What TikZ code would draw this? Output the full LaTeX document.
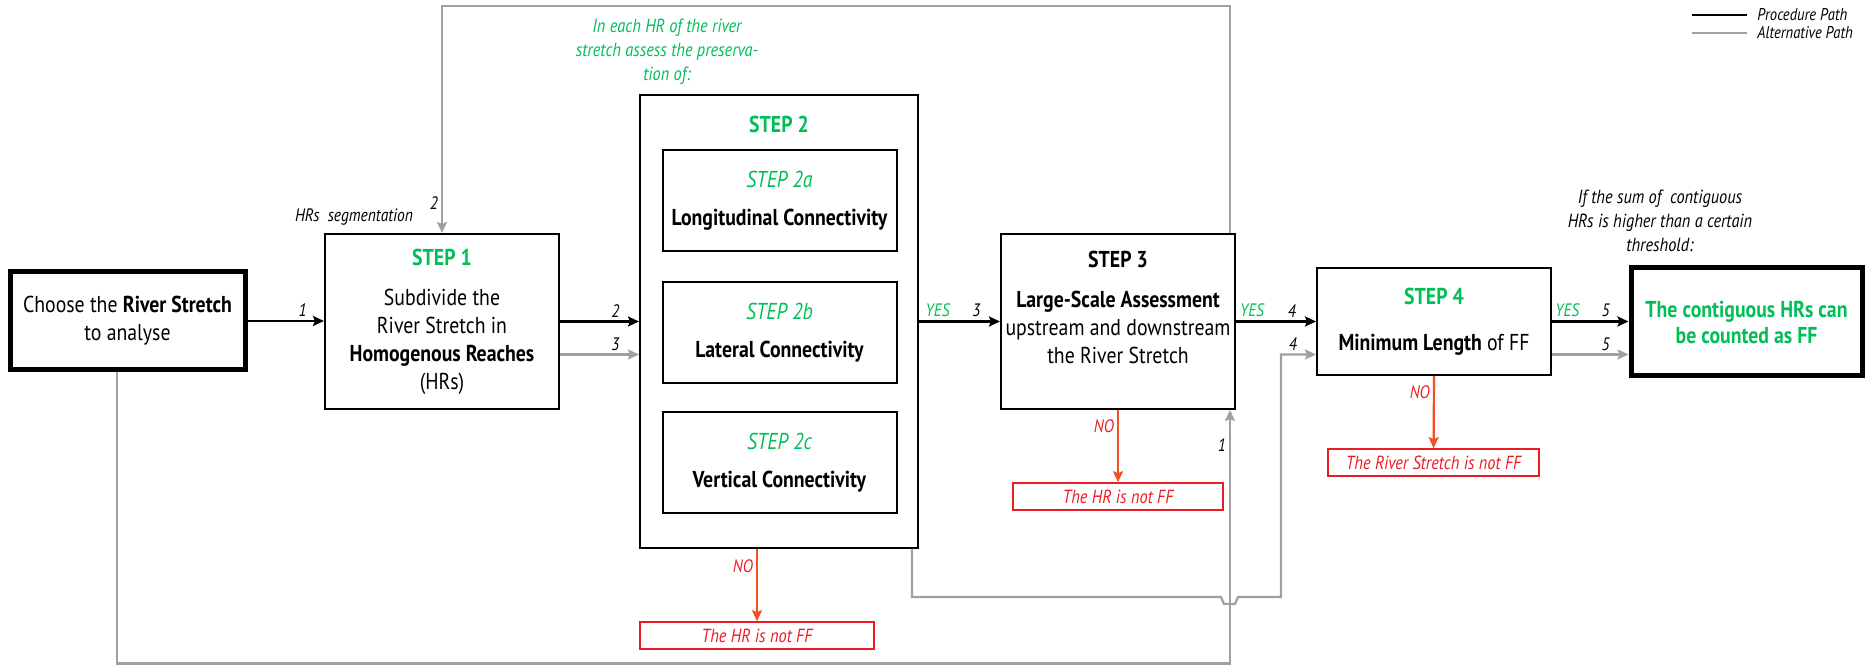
\documentclass[tikz,border=0pt]{standalone}
\usepackage{fontspec}
\setmainfont[FakeStretch=0.86]{PT Sans}
\usepackage{tikz}
\usetikzlibrary{arrows.meta,positioning}
\definecolor{stepgreen}{RGB}{0,191,87}
\definecolor{notred}{RGB}{237,28,36}
\definecolor{noorange}{RGB}{242,80,34}
\definecolor{altgray}{RGB}{160,160,160}

\begin{document}
\begin{tikzpicture}[x=0.5pt, y=-0.5pt,
  box/.style={draw, line width=1pt, align=center, minimum width=117pt, minimum height=87.5pt, inner sep=2pt, font=\fontsize{11.5}{14}\selectfont},
  endbox/.style={box, line width=2.5pt},
  sub/.style={box, minimum height=50.5pt},
  nobox/.style={draw=notred, line width=0.8pt, minimum height=13.5pt, inner sep=0pt, text=notred, font=\fontsize{9.5}{12}\selectfont\itshape},
  note/.style={align=center, font=\fontsize{9.5}{12}\selectfont\itshape},
  arr/.style={-{Stealth[length=5.5pt, width=5pt, inset=1pt]}, line width=1.4pt},
  alt/.style={arr, draw=altgray, line width=1.1pt},
  noarr/.style={arr, draw=noorange, line width=1.1pt},
  lab/.style={font=\fontsize{9}{11}\selectfont\itshape, inner sep=1.5pt},
  yes/.style={lab, text=stepgreen}]
  \useasboundingbox (0,0) rectangle (1865,667);
  % main row, all boxes centred on y = 321.5 (pixel grid, y downwards)
  \node[endbox, minimum width=117.5pt, minimum height=49pt] (choose) at (127.5,321) {Choose the \textbf{River Stretch}\\to analyse};
  \node[box] (step1) at (442,321.5) {\textcolor{stepgreen}{\textbf{STEP 1}}\\[6pt]Subdivide the\\River Stretch in\\\textbf{Homogenous Reaches}\\(HRs)};
  \node[box, minimum width=139pt, minimum height=226.5pt] (step2) at (779,321.5) {};
  \node[font=\fontsize{11.5}{14}\selectfont\bfseries, text=stepgreen] (step2title) at (779,124) {STEP 2};
  \node[sub] (step2a) at (779.5,200.5) {\textcolor{stepgreen}{\itshape STEP 2a}\\[5pt]\textbf{Longitudinal Connectivity}};
  \node[sub] (step2b) at (779.5,332.5) {\textcolor{stepgreen}{\itshape STEP 2b}\\[5pt]\textbf{Lateral Connectivity}};
  \node[sub] (step2c) at (779.5,463) {\textcolor{stepgreen}{\itshape STEP 2c}\\[5pt]\textbf{Vertical Connectivity}};
  \node[box] (step3) at (1118,321.5) {\textbf{STEP 3}\\[6pt]\textbf{Large-Scale Assessment}\\upstream and downstream\\the River Stretch\\\mbox{}};
  \node[box, minimum height=53.5pt] (step4) at (1434,321.5) {\textcolor{stepgreen}{\textbf{STEP 4}}\\[9pt]\textbf{Minimum Length} of FF};
  \node[endbox, minimum width=115.5pt, minimum height=54pt, text=stepgreen, font=\fontsize{11.5}{13}\selectfont\bfseries] (ff) at (1746.5,322) {The contiguous HRs can\\be counted as FF};
  % negative outcomes
  \node[nobox, minimum width=117pt] (no2) at (757,635.5) {The HR is not FF};
  \node[nobox, minimum width=105pt] (no3) at (1118,496.5) {The HR is not FF};
  \node[nobox, minimum width=105.5pt] (no4) at (1433.5,462.5) {The River Stretch is not FF};
  % notes
  \node[note, text=stepgreen] (assess) at (667,52) {In each HR of the river\\stretch assess the preserva-\\tion of:};
  \node[note] (sum) at (1660,221) {If the sum of\ \ contiguous\\HRs is higher than a certain\\threshold:};
  \node[lab] (segm) at (354,217) {HRs\ \ segmentation};
  % legend
  \node[lab, anchor=west, font=\fontsize{8.5}{10}\selectfont\itshape] (legproc) at (1754,15) {Procedure Path};
  \node[lab, anchor=west, font=\fontsize{8.5}{10}\selectfont\itshape] (legalt) at (1754,33) {Alternative Path};
  \draw[line width=1.1pt] ([xshift=-3.5pt]legproc.west) -- ++(-55,0);
  \draw[line width=1.1pt, altgray] ([xshift=-3.5pt]legalt.west) -- ++(-55,0);
  % procedure path
  \draw[arr] (choose.east) -- node[lab, above, pos=0.72]{1} (choose.east -| step1.west);
  \draw[arr] (step1.east) -- node[lab, above, pos=0.7]{2} (step1.east -| step2.west);
  \draw[arr] (step2.east) -- node[yes, above, pos=0.23]{YES} node[lab, above, pos=0.71]{3} (step3.west);
  \draw[arr] (step3.east) -- node[yes, above, pos=0.2]{YES} node[lab, above, pos=0.7]{4} (step4.west);
  \draw[arr] (step4.east) -- node[yes, above, pos=0.2]{YES} node[lab, above, pos=0.7]{5} (step4.east -| ff.west);
  % alternative path
  \draw[alt] ([yshift=-16.5pt]step1.east) -- node[lab, above, pos=0.7]{3} ([yshift=-16.5pt]step1.east -| step2.west);
  \draw[alt] ([yshift=-16.5pt]step4.east) -- node[lab, above, pos=0.7]{5} ([yshift=-16.5pt]step4.east -| ff.west);
  \draw[alt] ([xshift=-5.25pt]choose.south) -- ++(0,291) -| node[lab, left, pos=0.93]{1} ([xshift=-3pt]step3.south east);
  \draw[alt] ([xshift=-3pt]step3.north east) -- ++(0,-227) -| node[lab, left, pos=0.935]{2} (step1.north);
  \coordinate (hop) at (1229,597);
  \draw[alt] ([xshift=-3.5pt]step2.south east) |- ([xshift=-4pt]hop) -- ++(3,7) -- ++(11,0) -- ++(3,-7) -- ++(43,0) |- node[lab, above, pos=0.67]{4} ([yshift=-16.5pt]step4.west);
  % NO branches
  \draw[noarr] (step2.south -| no2) -- node[lab, left, text=notred, pos=0.24]{NO} (no2);
  \draw[noarr] (step3.south) -- node[lab, left, text=notred, pos=0.22]{NO} (no3);
  \draw[noarr] (step4.south) -- node[lab, left, text=notred, pos=0.23]{NO} (no4);
\end{tikzpicture}
\end{document}
